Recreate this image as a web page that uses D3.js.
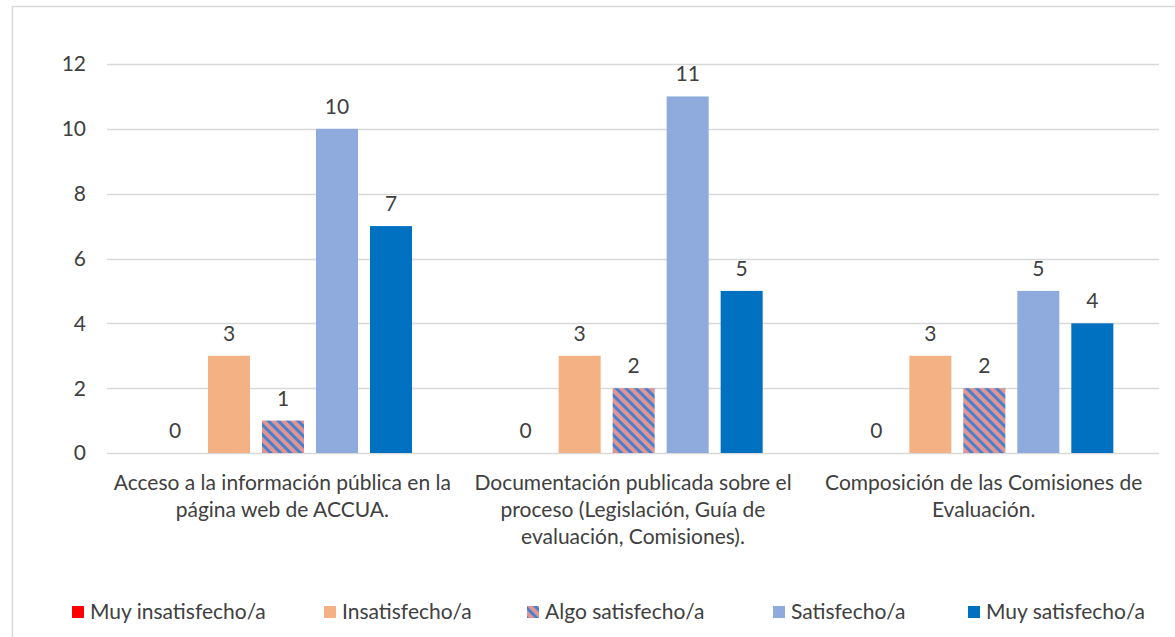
<!DOCTYPE html>
<html>
<head>
<meta charset="utf-8">
<script src="https://cdn.jsdelivr.net/npm/d3@7"></script>
<style>
  body { margin: 0; background: #fff; }
  text { font-family: Lato, "Open Sans", sans-serif; fill: #404040; }
</style>
</head>
<body>
<svg id="chart" width="1175" height="637"></svg>
<script>
var categories = [
  ['Acceso a la información pública en la', 'página web de ACCUA.'],
  ['Documentación publicada sobre el', 'proceso (Legislación, Guía de', 'evaluación, Comisiones).'],
  ['Composición de las Comisiones de', 'Evaluación.']
];
var seriesNames = ['Muy insatisfecho/a', 'Insatisfecho/a', 'Algo satisfecho/a', 'Satisfecho/a', 'Muy satisfecho/a'];
var muyInsatisfecho = [0, 0, 0];
var insatisfecho = [3, 3, 3];
var algoSatisfecho = [1, 2, 2];
var satisfecho = [10, 11, 5];
var muySatisfecho = [7, 5, 4];
var yTicks = [0, 2, 4, 6, 8, 10, 12];

var seriesValues = [muyInsatisfecho, insatisfecho, algoSatisfecho, satisfecho, muySatisfecho];
var colors = ['#ff0000', '#f4b183', 'url(#hatch)', '#8faadc', '#0070c0'];
var fontSize = 21;

var svg = d3.select('#chart');

// hatch pattern for "Algo satisfecho/a"
var defs = svg.append('defs');
var pat = defs.append('pattern')
  .attr('id', 'hatch')
  .attr('patternUnits', 'userSpaceOnUse')
  .attr('width', 7)
  .attr('height', 7)
  .attr('patternTransform', 'rotate(45)');
pat.append('rect').attr('width', 7).attr('height', 7).attr('fill', '#e09494');
pat.append('rect').attr('width', 7).attr('height', 3).attr('fill', '#4a7fcc');

// chart border
svg.append('rect')
  .attr('x', 12.5).attr('y', 6.5)
  .attr('width', 1175).attr('height', 640)
  .attr('fill', 'none')
  .attr('stroke', '#d9d9d9')
  .attr('stroke-width', 1.5);

var plot = { left: 107, right: 1159, top: 64, bottom: 453 };

var x0 = d3.scaleBand()
  .domain(d3.range(categories.length))
  .range([plot.left, plot.right]);

var x1 = d3.scaleBand()
  .domain(d3.range(seriesNames.length))
  .range([47, 305])
  .paddingInner(0.222)
  .paddingOuter(0);

var y = d3.scaleLinear().domain([0, 12]).range([plot.bottom, plot.top]);

// gridlines
svg.append('g')
  .selectAll('line')
  .data(yTicks)
  .enter().append('line')
  .attr('x1', plot.left)
  .attr('x2', plot.right)
  .attr('y1', function(d) { return Math.round(y(d)) + 0.5; })
  .attr('y2', function(d) { return Math.round(y(d)) + 0.5; })
  .attr('stroke', '#d9d9d9')
  .attr('stroke-width', 1.3);

// y axis labels
svg.append('g')
  .selectAll('text')
  .data(yTicks)
  .enter().append('text')
  .attr('x', 86)
  .attr('y', function(d) { return y(d); })
  .attr('dy', '0.35em')
  .attr('text-anchor', 'end')
  .attr('font-size', fontSize)
  .text(function(d) { return d; });

// bars
var groups = svg.append('g')
  .selectAll('g')
  .data(categories)
  .enter().append('g')
  .attr('transform', function(d, i) { return 'translate(' + x0(i) + ',0)'; });

groups.each(function(c, ci) {
  var g = d3.select(this);
  seriesValues.forEach(function(vals, si) {
    var v = vals[ci];
    g.append('rect')
      .attr('x', x1(si))
      .attr('y', y(v))
      .attr('width', x1.bandwidth())
      .attr('height', y(0) - y(v))
      .attr('fill', colors[si]);
    g.append('text')
      .attr('x', x1(si) + x1.bandwidth() / 2)
      .attr('y', y(v) - 15)
      .attr('text-anchor', 'middle')
      .attr('font-size', fontSize)
      .text(v);
  });
});

// category labels
groups.append('text')
  .attr('x', x0.bandwidth() / 2)
  .attr('y', 490)
  .attr('text-anchor', 'middle')
  .attr('font-size', fontSize)
  .selectAll('tspan')
  .data(function(d) { return d; })
  .enter().append('tspan')
  .attr('x', x0.bandwidth() / 2)
  .attr('dy', function(d, i) { return i === 0 ? 0 : 27; })
  .text(function(d) { return d; });

// legend
var legendX = [72, 324, 527, 773, 968];
var legend = svg.append('g')
  .selectAll('g')
  .data(seriesNames)
  .enter().append('g')
  .attr('transform', function(d, i) { return 'translate(' + legendX[i] + ',606)'; });

legend.append('rect')
  .attr('width', 12)
  .attr('height', 12)
  .attr('fill', function(d, i) { return colors[i]; });

legend.append('text')
  .attr('x', 18)
  .attr('y', 6)
  .attr('dy', '0.35em')
  .attr('font-size', fontSize)
  .text(function(d) { return d; });
</script>
</body>
</html>
